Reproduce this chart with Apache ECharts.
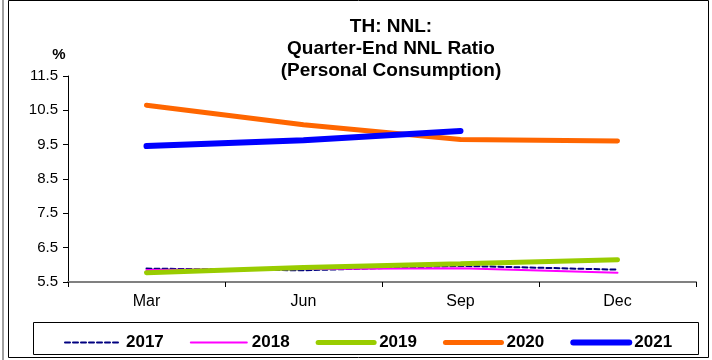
<!DOCTYPE html>
<html>
<head>
<meta charset="utf-8">
<style>
  html, body { margin: 0; padding: 0; background: #fff; }
  #chart { width: 712px; height: 360px; }
</style>
<script src="https://cdn.jsdelivr.net/npm/echarts@6/dist/echarts.min.js"></script>
</head>
<body>
<div id="chart"></div>
<script>
// Quarter-end NNL ratio, personal consumption (%)
const quarters = ['Mar', 'Jun', 'Sep', 'Dec'];
const years = ['2017', '2018', '2019', '2020', '2021'];
const nnl2017 = [5.89, 5.84, 5.97, 5.86];
const nnl2018 = [5.85, 5.88, 5.90, 5.77];
const nnl2019 = [5.77, 5.92, 6.03, 6.15];
const nnl2020 = [10.65, 10.08, 9.65, 9.61];
const nnl2021 = [9.46, 9.63, 9.90];
const yTicks = { min: 5.5, max: 11.5, step: 1 };

const FONT = '"Liberation Sans", Arial, sans-serif';

const lineDefs = [
  { data: nnl2017, color: '#000080', width: 2, type: [5, 3] },
  { data: nnl2018, color: '#FF00FF', width: 2, type: 'solid' },
  { data: nnl2019, color: '#99CC00', width: 5, type: 'solid' },
  { data: nnl2020, color: '#FF6600', width: 5, type: 'solid' },
  { data: nnl2021, color: '#0000FF', width: 6, type: 'solid' }
];

const chart = echarts.init(document.getElementById('chart'), null, { renderer: 'canvas' });

chart.setOption({
  animation: false,
  backgroundColor: '#ffffff',
  textStyle: { fontFamily: FONT },
  title: [
    {
      text: 'TH: NNL:\nQuarter-End NNL Ratio\n(Personal Consumption)',
      left: 386,
      top: 11,
      textAlign: 'center',
      textStyle: { fontFamily: FONT, fontSize: 19, fontWeight: 'bold', color: '#000', lineHeight: 22 }
    },
    {
      text: '%',
      left: 54,
      top: 42,
      textAlign: 'center',
      textStyle: { fontFamily: FONT, fontSize: 15, fontWeight: 'bold', color: '#000' }
    }
  ],
  graphic: [
    { type: 'line', shape: { x1: 3, y1: 0, x2: 3, y2: 360 }, style: { stroke: '#a0a0a0', lineWidth: 2 } },
    { type: 'rect', shape: { x: 8.5, y: 0.5, width: 700, height: 357 }, style: { fill: null, stroke: '#000', lineWidth: 1 } },
    { type: 'rect', shape: { x: 33.5, y: 322.5, width: 665, height: 32 }, style: { fill: null, stroke: '#000', lineWidth: 1 } }
  ],
  legend: {
    data: years.map((y, i) => ({
      name: y,
      lineStyle: { width: lineDefs[i].width, type: lineDefs[i].type, color: lineDefs[i].color, cap: 'round' }
    })),
    left: 59,
    top: 329,
    itemWidth: 56,
    itemHeight: 14,
    itemGap: 26,
    itemStyle: { opacity: 0 },
    textStyle: { fontFamily: FONT, fontSize: 17, fontWeight: 'bold', color: '#000' }
  },
  grid: { left: 68, right: 16, top: 76, bottom: 78 },
  xAxis: {
    type: 'category',
    data: quarters,
    boundaryGap: true,
    axisLine: { lineStyle: { color: '#808080', width: 2 } },
    axisTick: { show: true, length: 5, lineStyle: { color: '#000', width: 1 } },
    axisLabel: { fontFamily: FONT, fontSize: 16, color: '#000', margin: 12 }
  },
  yAxis: {
    type: 'value',
    min: yTicks.min,
    max: yTicks.max,
    interval: yTicks.step,
    axisLine: { show: true, lineStyle: { color: '#000', width: 1 } },
    axisTick: { show: true, length: 5, lineStyle: { color: '#000' } },
    splitLine: { show: false },
    axisLabel: {
      fontFamily: FONT, fontSize: 15, color: '#000', margin: 10,
      formatter: v => v.toFixed(1)
    }
  },
  series: lineDefs.map((d, i) => ({
    name: years[i],
    type: 'line',
    data: d.data,
    showSymbol: false,
    symbol: 'none',
    smooth: false,
    color: d.color,
    lineStyle: { color: d.color, width: d.width, type: d.type, cap: 'round' },
    z: 2 + i
  }))
});
</script>
</body>
</html>
